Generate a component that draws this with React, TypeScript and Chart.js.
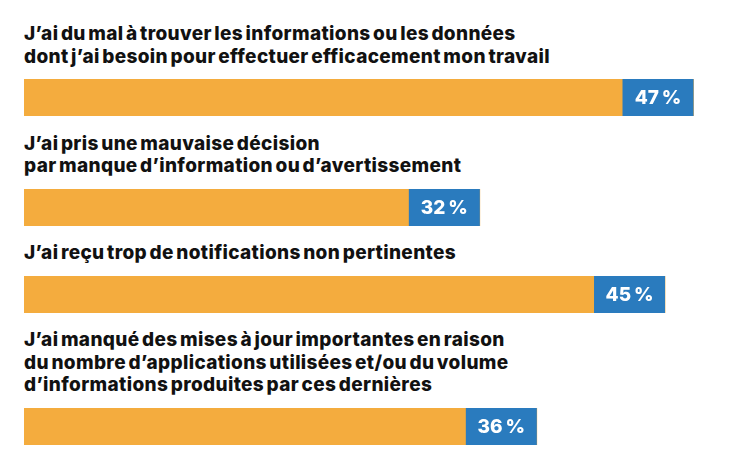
import React, { useEffect, useRef } from "react";
import { Chart, registerables } from "chart.js";

Chart.register(...registerables);

// ---- data ----
const categories: string[][] = [
  [
    "J’ai du mal à trouver les informations ou les données",
    "dont j’ai besoin pour effectuer efficacement mon travail",
  ],
  ["J’ai pris une mauvaise décision", "par manque d’information ou d’avertissement"],
  ["J’ai reçu trop de notifications non pertinentes"],
  [
    "J’ai manqué des mises à jour importantes en raison",
    "du nombre d’applications utilisées et/ou du volume",
    "d’informations produites par ces dernières",
  ],
];
const values: number[] = [47, 32, 45, 36];
const valueLabels: string[] = ["47\u202F%", "32\u202F%", "45\u202F%", "36\u202F%"];
const axisMax = 49;

// ---- style ----
const ORANGE = "#F4AC3E";
const BLUE = "#2A7BBE";
const FONT = "Inter, Roboto, 'Noto Sans', sans-serif";
const BADGE_W = 71;
const BAR_H = 37;

const badgePlugin = {
  id: "badge",
  afterDatasetsDraw(chart: any) {
    const ctx = chart.ctx as CanvasRenderingContext2D;
    const meta = chart.getDatasetMeta(0);
    meta.data.forEach((bar: any, i: number) => {
      const { x, y, height } = bar.getProps(["x", "y", "height"], true);
      const left = x - BADGE_W;
      ctx.save();
      ctx.fillStyle = BLUE;
      ctx.fillRect(left, y - height / 2, BADGE_W, height);
      ctx.fillStyle = "#ffffff";
      ctx.font = `800 19px ${FONT}`;
      ctx.textAlign = "center";
      ctx.textBaseline = "middle";
      const label = chart.data.datasets[0].valueLabels[i];
      ctx.fillText(label, left + BADGE_W / 2, y + 1);
      ctx.restore();
    });
  },
};

function BarRow({ index }: { index: number }) {
  const ref = useRef<HTMLCanvasElement>(null);
  useEffect(() => {
    const chart = new Chart(ref.current!, {
      type: "bar",
      data: {
        labels: [categories[index].join(" ")],
        datasets: [
          {
            data: [values[index]],
            valueLabels: [valueLabels[index]],
            backgroundColor: ORANGE,
            borderWidth: 0,
            barPercentage: 1,
            categoryPercentage: 1,
          } as any,
        ],
      },
      options: {
        indexAxis: "y",
        animation: false,
        responsive: false,
        maintainAspectRatio: false,
        layout: { padding: { left: 24, right: 12, top: 0, bottom: 0 } },
        scales: {
          x: { min: 0, max: axisMax, display: false },
          y: { display: false },
        },
        plugins: { legend: { display: false }, tooltip: { enabled: false } },
      },
      plugins: [badgePlugin],
    });
    return () => chart.destroy();
  }, [index]);

  return (
    <div style={{ marginBottom: 16.5 }}>
      <div
        style={{
          marginLeft: 24,
          fontFamily: FONT,
          fontWeight: 800,
          fontSize: 19,
          lineHeight: "22.5px",
          letterSpacing: "0.35px",
          wordSpacing: "-2px",
          color: "#111111",
          marginBottom: 11,
          whiteSpace: "nowrap",
        }}
      >
        {categories[index].map((l, k) => (
          <div key={k}>{l}</div>
        ))}
      </div>
      <canvas ref={ref} width={734} height={BAR_H} style={{ display: "block", width: 734, height: BAR_H }} />
    </div>
  );
}

export default function App() {
  return (
    <div
      style={{
        position: "absolute",
        left: 0,
        top: 0,
        width: 734,
        height: 462,
        background: "#ffffff",
        paddingTop: 23,
        boxSizing: "border-box",
        overflow: "hidden",
      }}
    >
      {categories.map((_, i) => (
        <BarRow key={i} index={i} />
      ))}
    </div>
  );
}
